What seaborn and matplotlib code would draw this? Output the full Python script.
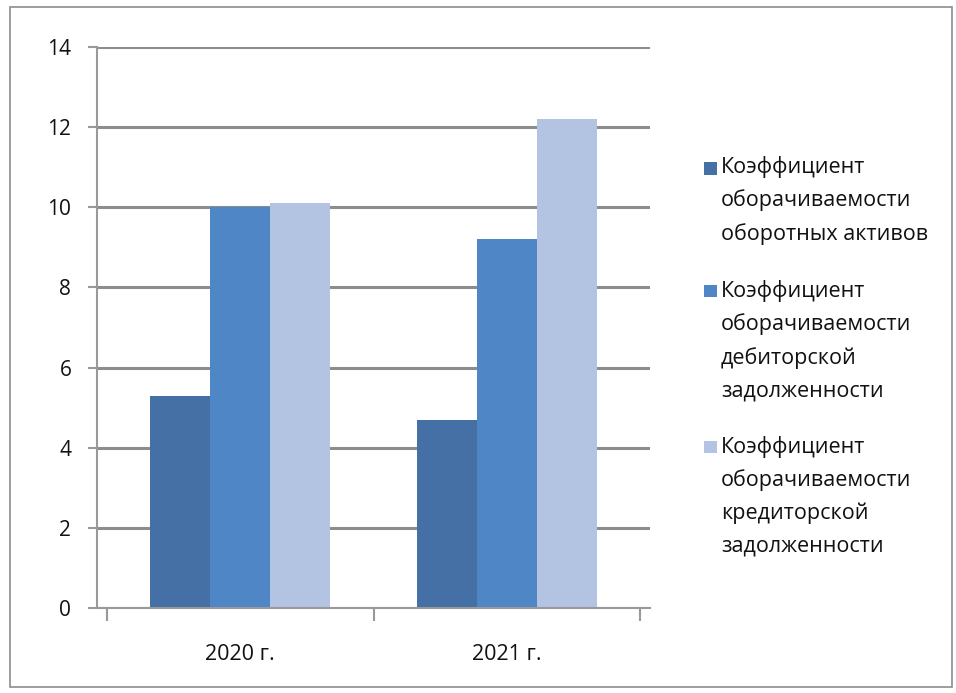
import matplotlib
matplotlib.use("Agg")
import matplotlib.pyplot as plt
import seaborn as sns
import pandas as pd
from matplotlib.patches import Rectangle
from matplotlib.legend_handler import HandlerBase

categories = ["2020 г.", "2021 г."]
series_names = [
    "Коэффициент\nоборачиваемости\nоборотных активов",
    "Коэффициент\nоборачиваемости\nдебиторской\nзадолженности",
    "Коэффициент\nоборачиваемости\nкредиторской\nзадолженности",
]
values_assets = [5.3, 4.7]
values_receivables = [10.0, 9.2]
values_payables = [10.1, 12.2]
y_ticks = [0, 2, 4, 6, 8, 10, 12, 14]
colors = ["#4470A5", "#4F86C6", "#B3C4E3"]

rows = []
for s, vals in zip(series_names, [values_assets, values_receivables, values_payables]):
    for c, v in zip(categories, vals):
        rows.append({"Год": c, "Показатель": s, "Значение": v})
df = pd.DataFrame(rows)

sns.set_theme(style="white")
plt.rcParams["font.family"] = ["Open Sans", "DejaVu Sans"]

FS = 15.5
LINE_SP = 1.7
LINE_PT = 34 * 0.72  # approx line pitch in points

fig = plt.figure(figsize=(9.56, 6.93), dpi=100)
ax = fig.add_axes([97 / 956, 1 - 608 / 693, (650 - 97) / 956, (608 - 47) / 693])

sns.barplot(data=df, x="Год", y="Значение", hue="Показатель",
            palette=colors, width=0.675, saturation=1, ax=ax,
            edgecolor="none", linewidth=0, errorbar=None)

ax.set_ylim(0, 14)
ax.set_xlim(-0.536, 1.536)
ax.set_yticks(y_ticks)
ax.set_yticklabels([str(t) for t in y_ticks], fontsize=FS - 0.5, color="#111111")
ax.tick_params(axis="y", length=6.5, width=1.5, color="#999999", pad=12, direction="out", left=True)
ax.set_xticks([0, 1])
ax.set_xticklabels(categories)
ax.tick_params(axis="x", length=0, labelsize=FS, pad=26, labelcolor="#111111")
ax.set_xticks([-0.5, 0.5, 1.5], minor=True)
ax.tick_params(axis="x", which="minor", length=9, width=1.5, color="#999999", bottom=True)
ax.set_xlabel("")
ax.set_ylabel("")
ax.set_axisbelow(True)
ax.yaxis.grid(True, color="#8C8C8C", linewidth=2.2)
for sp in ["top", "right"]:
    ax.spines[sp].set_visible(False)
for sp in ["left", "bottom"]:
    ax.spines[sp].set_color("#999999")
    ax.spines[sp].set_linewidth(1.5)

handles, labels = ax.get_legend_handles_labels()
ax.legend_.remove()


class TopSquareHandler(HandlerBase):
    def __init__(self, nlines):
        super().__init__()
        self.nlines = nlines

    def create_artists(self, legend, orig_handle, xdescent, ydescent, width, height, fontsize, trans):
        side = 9.0
        yc = height / 2 - ydescent + (self.nlines - 1) / 2 * LINE_PT
        r = Rectangle((width - side, yc - side / 2 - 1), side, side,
                      facecolor=orig_handle.get_facecolor(), edgecolor="none", transform=trans)
        return [r]


handler_map = {h: TopSquareHandler(lab.count("\n") + 1) for h, lab in zip(handles, labels)}
leg = fig.legend(handles, labels, loc="upper left", bbox_to_anchor=(693 / 956, 1 - 145 / 693),
                 frameon=False, fontsize=FS, handlelength=0.6, handleheight=0.6,
                 handletextpad=0.2, labelspacing=1.6, borderpad=0, handler_map=handler_map)
for t in leg.get_texts():
    t.set_linespacing(LINE_SP)
    t.set_color("#111111")

fig.patches.append(Rectangle((10 / 956, 6 / 693), 942 / 956, 680 / 693, transform=fig.transFigure,
                             fill=False, edgecolor="#8C8C8C", linewidth=1.2))

fig.savefig("out.png", dpi=100)
